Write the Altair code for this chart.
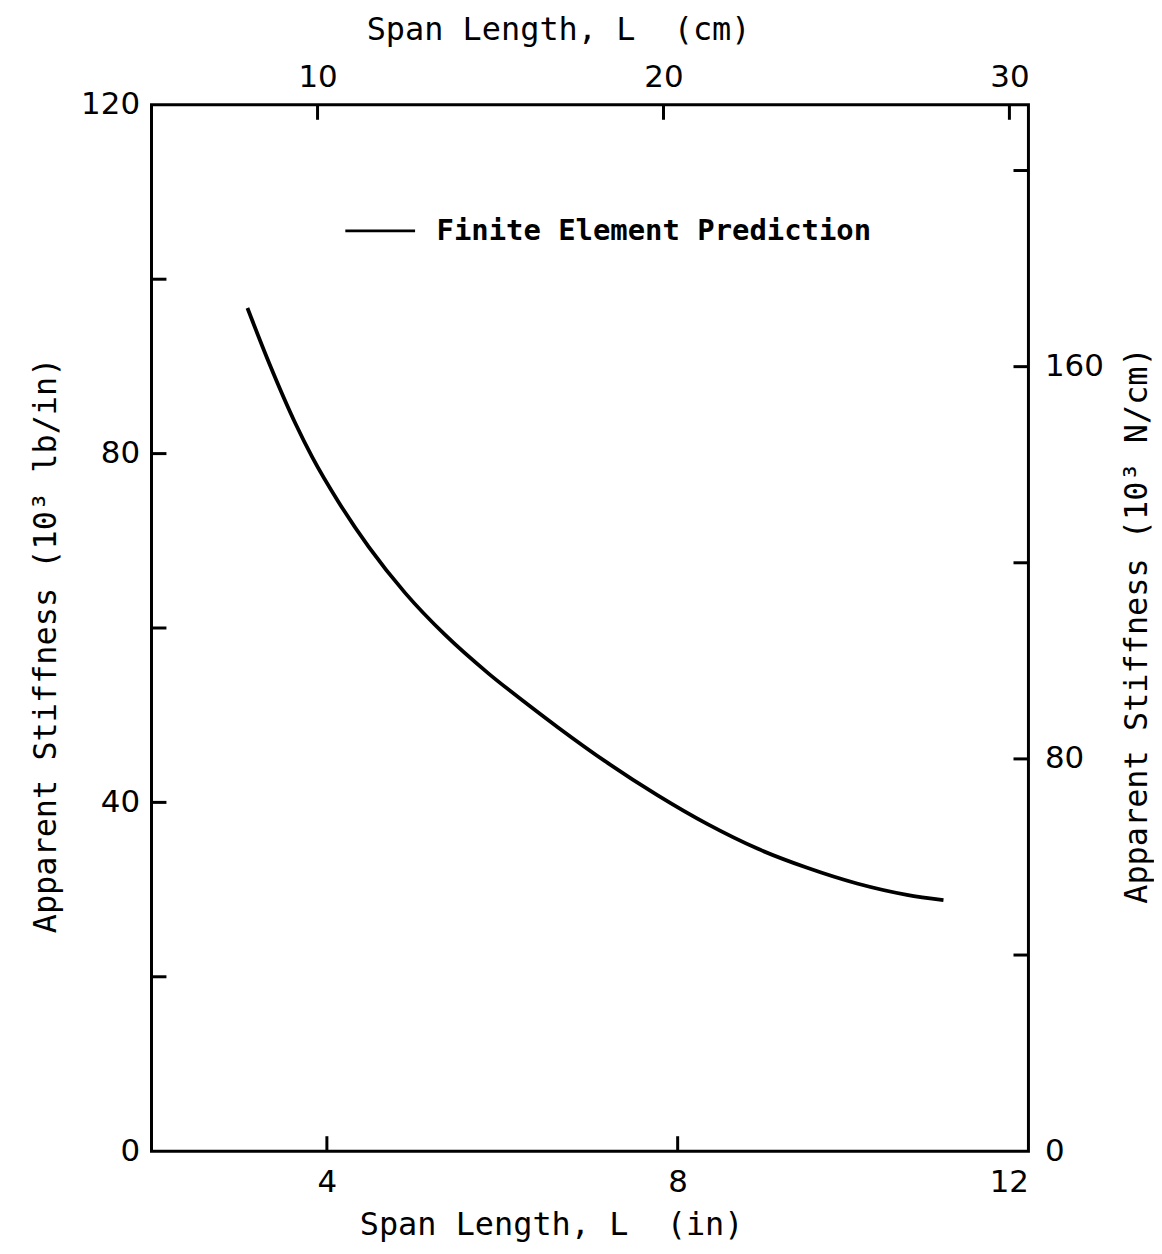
import altair as alt
import pandas as pd

# Finite element prediction curve
span_in = [3.094, 3.341, 3.644, 3.833, 4.136, 4.477, 4.894, 5.349, 5.841, 6.295,
           6.636, 7.205, 7.773, 8.341, 8.909, 9.477, 10.045, 10.614, 11.031]
stiffness = [96.7, 90.4, 83.4, 79.6, 74.4, 69.3, 64.0, 59.2, 54.8, 51.2,
             48.6, 44.5, 40.8, 37.5, 34.7, 32.5, 30.7, 29.4, 28.8]
series_name = "Finite Element Prediction"

# Axis ticks / labels
in_ticks = [4, 8]
in_labels = [4, 8, 12]
lb_ticks = [20, 40, 60, 80, 100]
lb_labels = [0, 40, 80, 120]
cm_ticks = [10, 20, 30]
ncm_ticks = [40, 80, 120, 160, 200]
ncm_labels = [0, 80, 160]

IN_DOMAIN = [2, 12]
LB_DOMAIN = [0, 120]
CM_DOMAIN = [5.2, 30.55]
NCM_DOMAIN = [0, 213.4]

W, H = 880, 1050
TICK = 15
FONT = "DejaVu Sans"
TFONT = "DejaVu Sans Mono"

curve_df = pd.DataFrame({"span": span_in, "stiff": stiffness, "series": series_name})

axis_common = dict(ticks=False, domain=False, grid=False, labelFont=FONT,
                   labelFontSize=31, labelColor="black", titleFont=TFONT,
                   titleFontSize=32, titleFontWeight="normal", titleColor="black")

curve = alt.Chart(curve_df).mark_line(
    color="black", strokeWidth=3.8, interpolate="monotone"
).encode(
    x=alt.X("span:Q", scale=alt.Scale(domain=IN_DOMAIN, nice=False, zero=False),
            axis=alt.Axis(orient="bottom", values=in_labels, labelPadding=16,
                          title="Span Length, L\u00a0\u00a0(in)",
                          titleX=401, titleY=84, titleBaseline="alphabetic",
                          titleAnchor="middle", **axis_common)),
    y=alt.Y("stiff:Q", scale=alt.Scale(domain=LB_DOMAIN, nice=False),
            axis=alt.Axis(orient="left", values=lb_labels, labelPadding=12,
                          title="Apparent Stiffness (10\u00b3 lb/in)",
                          titleAngle=270, titleX=-96, titleY=542,
                          titleBaseline="alphabetic", titleAlign="center",
                          **axis_common)),
    color=alt.Color("series:N", scale=alt.Scale(range=["black"]),
                    legend=alt.Legend(orient="none", legendX=193, legendY=90,
                                      title=None, symbolType="stroke",
                                      symbolSize=4900, symbolStrokeWidth=3,
                                      labelFont=TFONT, labelFontSize=29,
                                      labelFontWeight="bold", labelColor="black",
                                      labelOffset=20, labelLimit=700, padding=0)),
)

bottom_ticks = alt.Chart(pd.DataFrame({"v": in_ticks})).mark_rule(
    color="black", strokeWidth=3
).encode(
    x=alt.X("v:Q", scale=alt.Scale(domain=IN_DOMAIN, nice=False, zero=False), axis=None),
    y=alt.value(H), y2=alt.value(H - TICK),
)

left_ticks = alt.Chart(pd.DataFrame({"v": lb_ticks})).mark_rule(
    color="black", strokeWidth=3
).encode(
    y=alt.Y("v:Q", scale=alt.Scale(domain=LB_DOMAIN, nice=False), axis=None),
    x=alt.value(0), x2=alt.value(TICK),
)

top_ticks = alt.Chart(pd.DataFrame({"v": cm_ticks})).mark_rule(
    color="black", strokeWidth=3
).encode(
    x=alt.X("v:Q", scale=alt.Scale(domain=CM_DOMAIN, nice=False, zero=False),
            axis=alt.Axis(orient="top", values=cm_ticks, labelPadding=11,
                          title="Span Length, L\u00a0\u00a0(cm)",
                          titleX=408, titleY=-66, titleBaseline="alphabetic",
                          titleAnchor="middle", **axis_common)),
    y=alt.value(0), y2=alt.value(TICK),
)

right_ticks = alt.Chart(pd.DataFrame({"v": ncm_ticks})).mark_rule(
    color="black", strokeWidth=3
).encode(
    y=alt.Y("v:Q", scale=alt.Scale(domain=NCM_DOMAIN, nice=False),
            axis=alt.Axis(orient="right", values=ncm_labels, labelPadding=16,
                          title="Apparent Stiffness (10\u00b3 N/cm)",
                          titleAngle=270, titleX=118, titleY=522,
                          titleBaseline="alphabetic", titleAlign="center",
                          **axis_common)),
    x=alt.value(W), x2=alt.value(W - TICK),
)

chart = alt.layer(
    curve, bottom_ticks, left_ticks, top_ticks, right_ticks
).resolve_scale(
    x="independent", y="independent"
).properties(
    width=W, height=H,
    autosize=alt.AutoSizeParams(type="none"),
    padding={"left": 144, "top": 95, "right": 126, "bottom": 91},
    background="white",
).configure_view(
    stroke="black", strokeWidth=3
)

chart.save("out.html", embed_options={"renderer": "svg", "actions": False})
